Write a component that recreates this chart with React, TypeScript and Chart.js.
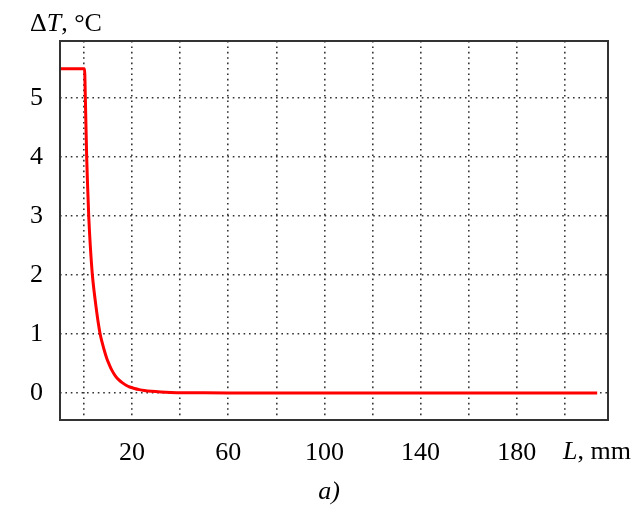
import React, { useEffect, useRef } from "react";
import { Chart, registerables } from "chart.js";

Chart.register(...registerables);

// Data
const lengthMm: number[] = [
  -10, 0.2, 0.55, 1.1, 1.5, 1.95, 2.6, 3.47, 4.2, 5.0, 5.8, 6.7, 7.5, 8.5, 9.5, 10.5, 11.5,
  13.0, 14.5, 16.0, 17.5, 19.0, 21.0, 23.0, 25.0, 28.0, 32.0, 36.0, 42.0, 50.0, 60.0, 213.5,
];
const deltaT: number[] = [
  5.5, 5.5, 5.0, 4.0, 3.5, 3.0, 2.5, 2.0, 1.72, 1.46, 1.22, 1.0, 0.86, 0.71, 0.58, 0.48, 0.39,
  0.29, 0.22, 0.17, 0.13, 0.1, 0.075, 0.055, 0.04, 0.026, 0.015, 0.008, 0.003, 0.001, 0, 0,
];
const xGridValues: number[] = [0, 20, 40, 60, 80, 100, 120, 140, 160, 180, 200];
const xLabelValues: number[] = [20, 60, 100, 140, 180];
const yTickValues: number[] = [0, 1, 2, 3, 4, 5];

const FONT = "'Liberation Serif', 'Times New Roman', serif";

const textPlugin = {
  id: "extraText",
  afterDraw(chart: any) {
    const ctx = chart.ctx as CanvasRenderingContext2D;
    const { left, top, right, bottom } = chart.chartArea;
    ctx.save();
    // frame
    ctx.strokeStyle = "#333";
    ctx.lineWidth = 2;
    ctx.strokeRect(left, top, right - left, bottom - top);

    ctx.fillStyle = "#000";
    ctx.textBaseline = "alphabetic";
    ctx.textAlign = "left";
    const up = `26px ${FONT}`;
    const it = `italic 26px ${FONT}`;
    const drawParts = (parts: [string, string][], x: number, y: number) => {
      let cx = x;
      for (const [txt, f] of parts) {
        ctx.font = f;
        ctx.fillText(txt, cx, y);
        cx += ctx.measureText(txt).width;
      }
    };
    drawParts([["Δ", up], ["T", it], [", °C", up]], 30, 31);
    drawParts([["L", it], [", mm", up]], 563, 459);
    ctx.font = it;
    ctx.textAlign = "center";
    ctx.fillText("a)", 329, 499);
    ctx.restore();
  },
};

export default function App() {
  const ref = useRef<HTMLCanvasElement | null>(null);
  useEffect(() => {
    if (!ref.current) return;
    const chart = new Chart(ref.current, {
      type: "line",
      data: {
        datasets: [
          {
            data: lengthMm.map((x, i) => ({ x, y: deltaT[i] })),
            borderColor: "#ff0000",
            borderWidth: 3,
            pointRadius: 0,
            cubicInterpolationMode: "monotone",
            fill: false,
          },
        ],
      },
      options: {
        animation: false,
        responsive: false,
        events: [],
        layout: { padding: { left: 0, top: 41, right: 27, bottom: 0 } },
        plugins: { legend: { display: false }, tooltip: { enabled: false }, title: { display: false } },
        scales: {
          x: {
            type: "linear",
            min: -10,
            max: 218,
            afterBuildTicks: (scale: any) => {
              scale.ticks = xGridValues.map((v) => ({ value: v }));
            },
            afterFit: (scale: any) => {
              scale.height = 87;
            },
            ticks: {
              autoSkip: false,
              maxRotation: 0,
              padding: 18,
              color: "#000",
              font: { family: FONT, size: 26 },
              callback: (v: any) => (xLabelValues.includes(Number(v)) ? String(v) : ""),
            },
            grid: { color: "#333", lineWidth: 1.6, drawTicks: false },
            border: { display: false, dash: [1.6, 3.8] },
          },
          y: {
            type: "linear",
            min: -0.46,
            max: 5.97,
            afterBuildTicks: (scale: any) => {
              scale.ticks = yTickValues.map((v) => ({ value: v }));
            },
            afterFit: (scale: any) => {
              scale.width = 60;
            },
            ticks: {
              padding: 17,
              color: "#000",
              font: { family: FONT, size: 26 },
            },
            grid: { color: "#333", lineWidth: 1.6, drawTicks: false },
            border: { display: false, dash: [1.6, 3.8] },
          },
        },
      },
      plugins: [textPlugin],
    });
    return () => chart.destroy();
  }, []);
  return (
    <div style={{ position: "absolute", left: 0, top: 0, width: 635, height: 507, background: "#fff" }}>
      <canvas ref={ref} width={635} height={507} style={{ display: "block" }} />
    </div>
  );
}
